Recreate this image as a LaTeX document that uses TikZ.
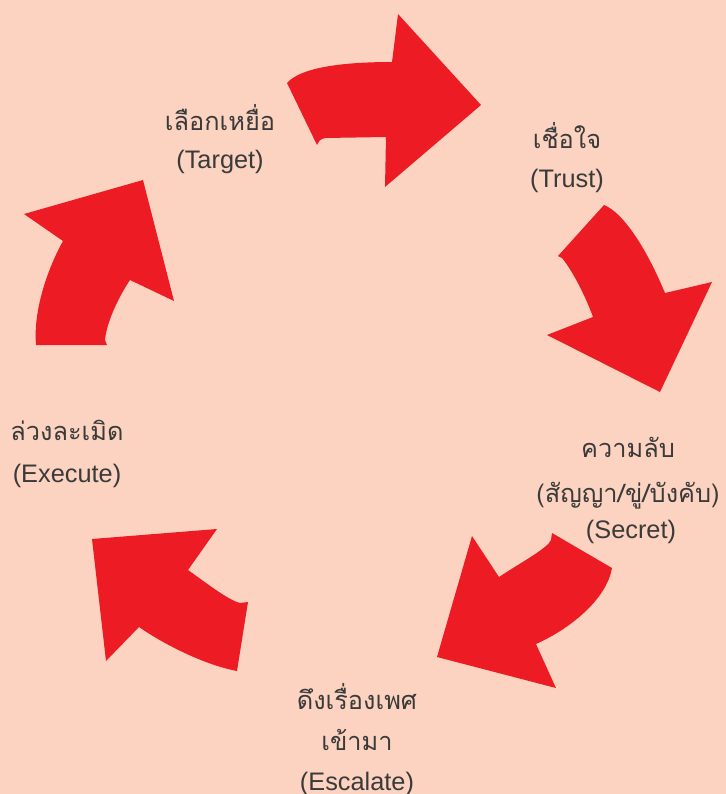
\documentclass[tikz,border=0pt]{standalone}
\usepackage{fontspec}
\setmainfont{Liberation Sans}
\newfontfamily\thaifont[Script=Thai]{Loma}
\definecolor{bgpeach}{HTML}{FCD3C0}
\definecolor{arrowred}{HTML}{ED1C24}
\definecolor{txtgray}{HTML}{3A3A3A}
\tikzset{
  cyclearrow/.style={fill=arrowred, draw=none},
  thailabel/.style={anchor=base, inner sep=0pt, text=txtgray, font=\thaifont\fontsize{19}{24}\selectfont},
  latinlabel/.style={anchor=base, inner sep=0pt, text=txtgray, font=\fontsize{19}{24}\selectfont}
}
\begin{document}
\begin{tikzpicture}[x=0.75pt, y=-0.75pt]
\fill[bgpeach] (0,0) rectangle (726,794);
\useasboundingbox (0,0) rectangle (726,794);

% arrow 1 (top)
\fill[cyclearrow] (287,83) .. controls (300,68) and (340,62) .. (392,62) -- (398,14) -- (481,105) -- (385,187) -- (386,137) -- (325,138) .. controls (320,139) and (318,142) .. (317,145) -- cycle;
% arrow 2 (right)
\fill[cyclearrow] (604,205) .. controls (622,212) and (645,245) .. (665,293) -- (712,282) -- (660,392) -- (547,335) -- (593,317) .. controls (585,295) and (572,270) .. (562,258) -- (558,256) -- cycle;
% arrow 3 (bottom right)
\fill[cyclearrow] (552,533) -- (612,568) .. controls (607,598) and (572,628) .. (536,644) -- (556,688) -- (437,657) -- (472,536) -- (499,577) .. controls (520,563) and (548,548) .. (551,540) -- cycle;
% arrow 4 (bottom left)
\fill[cyclearrow] (92,539) -- (217,529) -- (188,570) .. controls (205,582) and (228,600) .. (240,603) -- (248,602) -- (237,671) .. controls (205,665) and (165,645) .. (139,627) -- (106,661) -- cycle;
% arrow 5 (left)
\fill[cyclearrow] (143,180) -- (174,301) -- (130,280) .. controls (120,295) and (107,320) .. (105,340) -- (107,345) -- (36,345) .. controls (33,310) and (48,268) .. (63,241) -- (24,214) -- cycle;

% labels
\node[thailabel] (target1) at (220,130) {เลือกเหยื่อ};
\node[latinlabel] (target2) at (220,168) {(Target)};
\node[thailabel] (trust1) at (567,148) {เชื่อใจ};
\node[latinlabel] (trust2) at (567,187) {(Trust)};
\node[thailabel] (secret1) at (628,457) {ความลับ};
\node[thailabel] (secret2) at (628,502) {(สัญญา/ขู่/บังคับ)};
\node[latinlabel] (secret3) at (631,538) {(Secret)};
\node[thailabel] (esc1) at (357,709) {ดึงเรื่องเพศ};
\node[thailabel] (esc2) at (357,750) {เข้ามา};
\node[latinlabel] (esc3) at (357,790) {(Escalate)};
\node[thailabel] (exec1) at (67,440) {ล่วงละเมิด};
\node[latinlabel] (exec2) at (67,482) {(Execute)};
\end{tikzpicture}
\end{document}
